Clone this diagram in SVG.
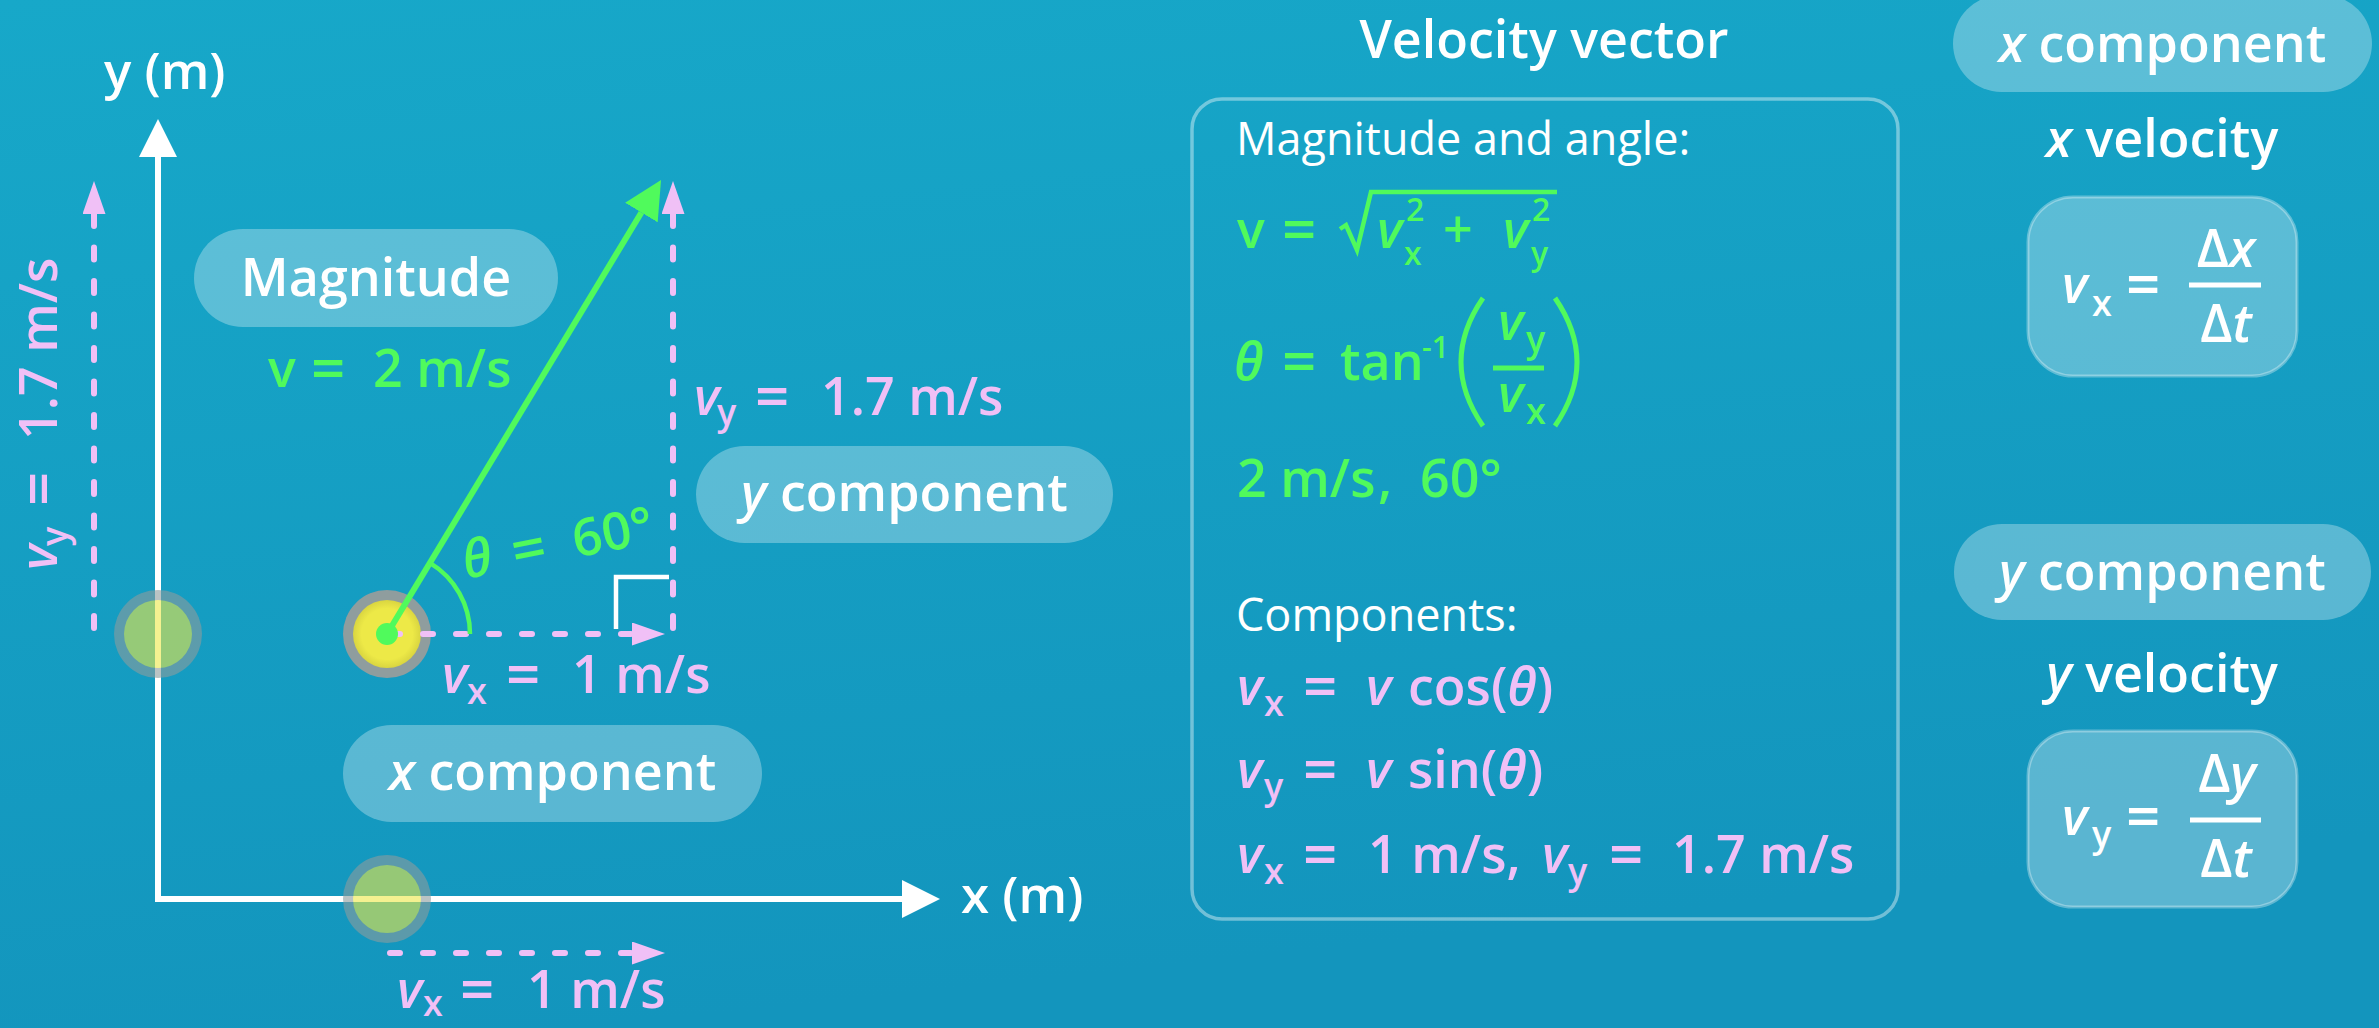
<svg xmlns="http://www.w3.org/2000/svg" width="2379" height="1028" viewBox="0 0 2379 1028">
<defs>
<linearGradient id="bg" x1="0" y1="0" x2="0.25" y2="1">
<stop offset="0" stop-color="#17a8c9"/>
<stop offset="1" stop-color="#1395bd"/>
</linearGradient>
<radialGradient id="yel" cx="0.5" cy="0.5" r="0.5">
<stop offset="0.75" stop-color="#ede947"/>
<stop offset="1" stop-color="#d9d540"/>
</radialGradient>
<marker id="ahWhite" viewBox="0 0 38 38" refX="0" refY="19" markerWidth="38" markerHeight="38" markerUnits="userSpaceOnUse" orient="auto">
<polygon points="0,0 38,19 0,38" fill="#ffffff"/>
</marker>
<marker id="ahGreen" viewBox="0 0 38 38" refX="0" refY="19" markerWidth="38" markerHeight="38" markerUnits="userSpaceOnUse" orient="auto">
<polygon points="0,0 38,19 0,38" fill="#50fa5c"/>
</marker>
<marker id="ahPink" viewBox="0 0 33 23" refX="0" refY="11.5" markerWidth="33" markerHeight="23" markerUnits="userSpaceOnUse" orient="auto">
<polygon points="0,0 33,11.5 0,23" fill="#f0c0f6"/>
</marker>
</defs>
<style>
text { font-family: "Open Sans", "Lato", "Liberation Sans", sans-serif; font-weight: 600; }
.pill { fill: rgba(255,255,255,0.3); }
.pt { font-size: 52px; fill: #ffffff; text-anchor: middle; }
.m { font-size: 52px; }
.eq { font-size: 60px; }
.s { font-size: 36px; }
.ss { font-size: 32px; }
.w { fill: #ffffff; }
.g { fill: #50fa5c; }
.p { fill: #f0c0f6; }
.it { font-style: italic; }
.lbl { font-size: 45px; font-weight: 500; fill: #ffffff; }
.axis { stroke: #ffffff; stroke-width: 6; fill: none; }
.dash { stroke: #f0c0f6; stroke-width: 6; fill: none; stroke-linecap: round; }
.fbox { fill: rgba(255,255,255,0.3); stroke: rgba(255,255,255,0.32); stroke-width: 3; }
.bar { stroke-width: 5; }
</style>

<rect x="0" y="0" width="2379" height="1028" fill="url(#bg)"/>

<g id="axes">
<path class="axis" d="M158 899 L158 157" marker-end="url(#ahWhite)"/>
<path class="axis" d="M155 899 L902 899" marker-end="url(#ahWhite)"/>
<text class="w" x="104" y="89" font-size="51">y (m)</text>
<text class="w" x="961" y="913" font-size="51">x (m)</text>
</g>

<g id="ball-left" opacity="0.6">
<circle cx="158" cy="634" r="44" fill="#8d9c9e"/>
<circle cx="158" cy="634" r="34" fill="#ede947"/>
</g>
<g id="ball-bottom" opacity="0.6">
<circle cx="387" cy="899" r="44" fill="#8d9c9e"/>
<circle cx="387" cy="899" r="34" fill="#ede947"/>
</g>
<g id="ball-main">
<circle cx="387" cy="634" r="44" fill="#8f9d9e"/>
<circle cx="387" cy="634" r="34" fill="url(#yel)"/>
</g>

<g id="connectors">
<path class="dash" d="M94 631 L94 214" stroke-dasharray="12 21.5" stroke-dashoffset="-3" marker-end="url(#ahPink)"/>
<path class="dash" d="M673 631 L673 214" stroke-dasharray="12 21.5" stroke-dashoffset="-3" marker-end="url(#ahPink)"/>
<path class="dash" d="M390 634 L632 634" stroke-dasharray="10 23" marker-end="url(#ahPink)"/>
<path class="dash" d="M390 953 L632 953" stroke-dasharray="10 23" marker-end="url(#ahPink)"/>
<path d="M387 634 L641.4 212.5" stroke="#50fa5c" stroke-width="6" fill="none" marker-end="url(#ahGreen)"/>
<path d="M470 634 A83 83 0 0 0 429.9 562.9" stroke="#50fa5c" stroke-width="4.5" fill="none"/>
<polyline points="616,629 616,577 669,577" stroke="#ffffff" stroke-width="4.5" fill="none"/>
<circle cx="387" cy="634" r="11" fill="#50fa5c"/>
</g>

<g id="pill-magnitude">
<rect class="pill" x="194" y="229" width="364" height="98" rx="49"/>
<text class="pt" x="376" y="296">Magnitude</text>
</g>
<g id="label-v">
<text class="m g" y="387"><tspan x="268">v</tspan><tspan class="eq" x="311" y="390">=</tspan><tspan x="373" y="387">2 m/s</tspan></text>
</g>
<g id="label-vy">
<text class="m p" y="415"><tspan class="it" x="694">v</tspan><tspan class="s" x="717" y="425">y</tspan><tspan class="eq" x="755" y="418">=</tspan><tspan x="821" y="415">1.7 m/s</tspan></text>
</g>
<g id="pill-ycomp-left">
<rect class="pill" x="696" y="446" width="417" height="97" rx="48.5"/>
<text class="pt" x="904.5" y="511"><tspan class="it">y</tspan> component</text>
</g>
<g id="label-theta" transform="translate(466,579) rotate(-11)">
<text class="m g" y="0"><tspan class="it" x="0">θ</tspan><tspan class="eq" x="50" y="3">=</tspan><tspan x="112" y="0">60°</tspan></text>
</g>
<g id="label-vx">
<text class="m p" y="693"><tspan class="it" x="442">v</tspan><tspan class="s" x="467" y="704">x</tspan><tspan class="eq" x="506" y="696">=</tspan><tspan x="572" y="693">1 m/s</tspan></text>
</g>
<g id="pill-xcomp-left">
<rect class="pill" x="343" y="725" width="419" height="97" rx="48.5"/>
<text class="pt" x="552.5" y="790"><tspan class="it">x</tspan> component</text>
</g>
<g id="label-vx-bottom">
<text class="m p" y="1008"><tspan class="it" x="397">v</tspan><tspan class="s" x="423" y="1016">x</tspan><tspan class="eq" x="460" y="1011">=</tspan><tspan x="527" y="1008">1 m/s</tspan></text>
</g>
<g id="label-vy-rot" transform="translate(57,570) rotate(-90)">
<text class="m p" y="0"><tspan class="it" x="0">v</tspan><tspan class="s" x="24" y="10">y</tspan><tspan class="eq" x="64" y="3">=</tspan><tspan x="130" y="0">1.7 m/s</tspan></text>
</g>

<g id="panel-velocity-vector">
<text class="w" x="1544" y="58" font-size="52" text-anchor="middle">Velocity vector</text>
<rect x="1192" y="99" width="706" height="820" rx="30" fill="none" stroke="rgba(255,255,255,0.4)" stroke-width="3.5"/>
<text class="lbl" x="1236" y="155">Magnitude and angle:</text>
<text class="m g" y="248"><tspan x="1237">v</tspan><tspan class="eq" x="1282" y="251">=</tspan><tspan class="it" x="1377" y="248">v</tspan><tspan class="ss" x="1404" y="265">x</tspan><tspan class="ss" x="1406" y="221">2</tspan><tspan x="1443" y="248">+</tspan><tspan class="it" x="1503">v</tspan><tspan class="ss" x="1531" y="265">y</tspan><tspan class="ss" x="1532" y="221">2</tspan></text>
<path d="M1340 229 L1346 225 L1357 250 L1371 192 L1557 192" stroke="#50fa5c" stroke-width="4.5" fill="none"/>
<text class="m g" y="380"><tspan class="it" x="1234">θ</tspan><tspan class="eq" x="1282" y="383">=</tspan><tspan x="1340" y="380">tan</tspan><tspan font-size="30" x="1422" y="358">-1</tspan></text>
<path d="M1483 298 Q1439 362 1483 426" stroke="#50fa5c" stroke-width="5" fill="none"/>
<path d="M1555 298 Q1599 362 1555 426" stroke="#50fa5c" stroke-width="5" fill="none"/>
<text class="m g" y="340"><tspan class="it" x="1498">v</tspan><tspan class="s" x="1526" y="352">y</tspan></text>
<line class="bar" x1="1493" y1="368" x2="1544" y2="368" stroke="#50fa5c"/>
<text class="m g" y="412"><tspan class="it" x="1498">v</tspan><tspan class="s" x="1526" y="424">x</tspan></text>
<text class="m g" y="497"><tspan x="1237">2 m/s</tspan><tspan x="1378">,</tspan><tspan x="1420">60°</tspan></text>
<text class="lbl" x="1236" y="631">Components:</text>
<text class="m p" y="705"><tspan class="it" x="1237">v</tspan><tspan class="s" x="1264" y="716">x</tspan><tspan class="eq" x="1303" y="708">=</tspan><tspan class="it" x="1366" y="705">v</tspan><tspan x="1408">cos(</tspan><tspan class="it">θ</tspan><tspan>)</tspan></text>
<text class="m p" y="788"><tspan class="it" x="1237">v</tspan><tspan class="s" x="1264" y="799">y</tspan><tspan class="eq" x="1303" y="791">=</tspan><tspan class="it" x="1366" y="788">v</tspan><tspan x="1408">sin(</tspan><tspan class="it">θ</tspan><tspan>)</tspan></text>
<text class="m p" y="873"><tspan class="it" x="1237">v</tspan><tspan class="s" x="1264" y="884">x</tspan><tspan class="eq" x="1303" y="876">=</tspan><tspan x="1368" y="873">1 m/s,</tspan><tspan class="it" x="1542">v</tspan><tspan class="s" x="1568" y="884">y</tspan><tspan class="eq" x="1609" y="876">=</tspan><tspan x="1672" y="873">1.7 m/s</tspan></text>
</g>

<g id="pill-xcomp-right">
<rect class="pill" x="1953" y="-5" width="419" height="97" rx="48.5"/>
<text class="pt" x="2162.5" y="62"><tspan class="it">x</tspan> component</text>
</g>
<g id="title-xvel">
<text class="pt" x="2162" y="157"><tspan class="it">x</tspan> velocity</text>
</g>
<g id="formula-vx">
<rect class="fbox" x="2028" y="197" width="269" height="179" rx="45"/>
<text class="m w" y="303" font-weight="700"><tspan class="it" x="2062">v</tspan><tspan class="s" x="2092" y="316">x</tspan><tspan class="eq" x="2126" y="306">=</tspan></text>
<line class="bar" x1="2189" y1="285" x2="2261" y2="285" stroke="#ffffff"/>
<text class="m w" x="2226" y="267" font-weight="700" text-anchor="middle">Δ<tspan class="it">x</tspan></text>
<text class="m w" x="2226" y="342" font-weight="700" text-anchor="middle">Δ<tspan class="it">t</tspan></text>
</g>
<g id="pill-ycomp-right">
<rect class="pill" x="1954" y="524" width="417" height="96" rx="48"/>
<text class="pt" x="2162.5" y="590"><tspan class="it">y</tspan> component</text>
</g>
<g id="title-yvel">
<text class="pt" x="2162" y="692"><tspan class="it">y</tspan> velocity</text>
</g>
<g id="formula-vy">
<rect class="fbox" x="2028" y="731" width="269" height="176" rx="45"/>
<text class="m w" y="835" font-weight="700"><tspan class="it" x="2062">v</tspan><tspan class="s" x="2092" y="847">y</tspan><tspan class="eq" x="2126" y="838">=</tspan></text>
<line class="bar" x1="2190" y1="820" x2="2261" y2="820" stroke="#ffffff"/>
<text class="m w" x="2227" y="792" font-weight="700" text-anchor="middle">Δ<tspan class="it">y</tspan></text>
<text class="m w" x="2226" y="877" font-weight="700" text-anchor="middle">Δ<tspan class="it">t</tspan></text>
</g>
</svg>
